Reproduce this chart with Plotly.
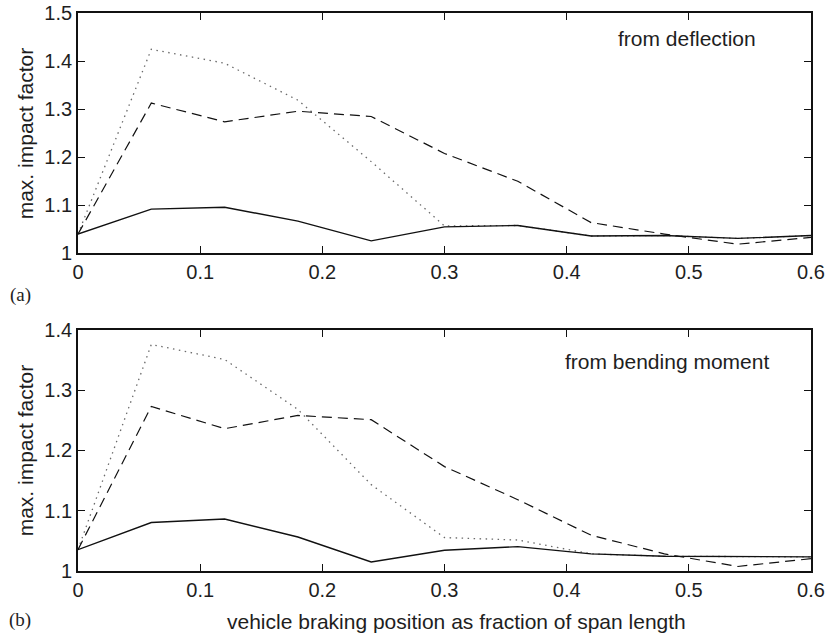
import plotly.graph_objects as go

W, H = 829, 637

# ---- data ----
x_pos = [0, 0.06, 0.12, 0.18, 0.24, 0.30, 0.36, 0.42, 0.48, 0.54, 0.60]

defl_solid = [1.040, 1.092, 1.096, 1.067, 1.026, 1.055, 1.058, 1.036, 1.037, 1.031, 1.037]
defl_dashed = [1.040, 1.313, 1.274, 1.296, 1.285, 1.208, 1.150, 1.064, 1.040, 1.019, 1.033]
defl_dotted = [1.040, 1.425, 1.396, 1.319, 1.191, 1.057, 1.058, 1.036, 1.037, 1.031, 1.037]

bend_solid = [1.035, 1.080, 1.086, 1.056, 1.0145, 1.034, 1.040, 1.028, 1.024, 1.023, 1.023]
bend_dashed = [1.035, 1.273, 1.236, 1.258, 1.251, 1.173, 1.118, 1.059, 1.028, 1.007, 1.020]
bend_dotted = [1.035, 1.376, 1.351, 1.268, 1.143, 1.055, 1.051, 1.028, 1.024, 1.023, 1.023]

x_ticks = [0, 0.1, 0.2, 0.3, 0.4, 0.5, 0.6]
x_ticklabels = ["0", "0.1", "0.2", "0.3", "0.4", "0.5", "0.6"]
y_ticks_a = [1, 1.1, 1.2, 1.3, 1.4, 1.5]
y_ticklabels_a = ["1", "1.1", "1.2", "1.3", "1.4", "1.5"]
y_ticks_b = [1, 1.1, 1.2, 1.3, 1.4]
y_ticklabels_b = ["1", "1.1", "1.2", "1.3", "1.4"]

FONT = "Liberation Sans, Arial, sans-serif"
SERIF = "Liberation Serif, Times New Roman, serif"
FS = 20
FT = 21
TXT = "#1e1e1e"

fig = go.Figure()

def add_set(dotted, dashed, solid, xa, ya):
    fig.add_trace(go.Scatter(x=x_pos, y=dotted, mode="lines", xaxis=xa, yaxis=ya,
                             line=dict(color="#6a6a6a", width=1.3, dash="1.5px,4.5px"),
                             showlegend=False))
    fig.add_trace(go.Scatter(x=x_pos, y=dashed, mode="lines", xaxis=xa, yaxis=ya,
                             line=dict(color="#111111", width=1.2, dash="10px,6px"),
                             showlegend=False))
    fig.add_trace(go.Scatter(x=x_pos, y=solid, mode="lines", xaxis=xa, yaxis=ya,
                             line=dict(color="#111111", width=1.4),
                             showlegend=False))

add_set(defl_dotted, defl_dashed, defl_solid, "x", "y")
add_set(bend_dotted, bend_dashed, bend_solid, "x2", "y2")

x0, x1 = 78 / W, 811 / W
dom_a = [(H - 253.3) / H, (H - 13.3) / H]
dom_b = [(H - 570.7) / H, (H - 330) / H]

axis_common = dict(showline=True, linecolor="#111111", linewidth=1.8, mirror="ticks",
                   ticks="inside", ticklen=7, tickwidth=1.2, tickcolor="#111111",
                   showgrid=False, zeroline=False, automargin=False,
                   tickfont=dict(family=FONT, size=FS, color=TXT))

fig.update_layout(
    width=W, height=H,
    margin=dict(l=0, r=0, t=0, b=0),
    paper_bgcolor="white", plot_bgcolor="white",
    xaxis=dict(domain=[x0, x1], anchor="y", range=[0, 0.6], tickmode="array",
               tickvals=x_ticks, ticktext=x_ticklabels, **axis_common),
    yaxis=dict(domain=dom_a, anchor="x", range=[1, 1.5], tickmode="array",
               tickvals=y_ticks_a, ticktext=y_ticklabels_a, **axis_common),
    xaxis2=dict(domain=[x0, x1], anchor="y2", range=[0, 0.6], tickmode="array",
                tickvals=x_ticks, ticktext=x_ticklabels, **axis_common),
    yaxis2=dict(domain=dom_b, anchor="x2", range=[1, 1.4], tickmode="array",
                tickvals=y_ticks_b, ticktext=y_ticklabels_b, **axis_common),
)

ann = []
# y-axis titles
for dom in (dom_a, dom_b):
    ann.append(dict(text="max. impact factor", xref="paper", yref="paper",
                    x=25 / W, y=(dom[0] + dom[1]) / 2, textangle=-90, showarrow=False,
                    xanchor="center", yanchor="middle",
                    font=dict(family=FONT, size=FT, color=TXT)))
# x-axis title
ann.append(dict(text="vehicle braking position as fraction of span length",
                xref="paper", yref="paper", x=456 / W, y=(H - 621) / H,
                showarrow=False, xanchor="center", yanchor="middle",
                font=dict(family=FONT, size=FT, color=TXT)))
# in-plot labels
ann.append(dict(text="from deflection", xref="paper", yref="paper",
                x=687 / W, y=(H - 39) / H, showarrow=False,
                xanchor="center", yanchor="middle",
                font=dict(family=FONT, size=FT, color=TXT)))
ann.append(dict(text="from bending moment", xref="paper", yref="paper",
                x=667 / W, y=(H - 362) / H, showarrow=False,
                xanchor="center", yanchor="middle",
                font=dict(family=FONT, size=FT, color=TXT)))
# panel labels
ann.append(dict(text="(a)", xref="paper", yref="paper",
                x=20 / W, y=(H - 295) / H, showarrow=False,
                xanchor="center", yanchor="middle",
                font=dict(family=SERIF, size=19, color=TXT)))
ann.append(dict(text="(b)", xref="paper", yref="paper",
                x=20 / W, y=(H - 620) / H, showarrow=False,
                xanchor="center", yanchor="middle",
                font=dict(family=SERIF, size=19, color=TXT)))

fig.update_layout(annotations=ann)

fig.write_html("out.html")
